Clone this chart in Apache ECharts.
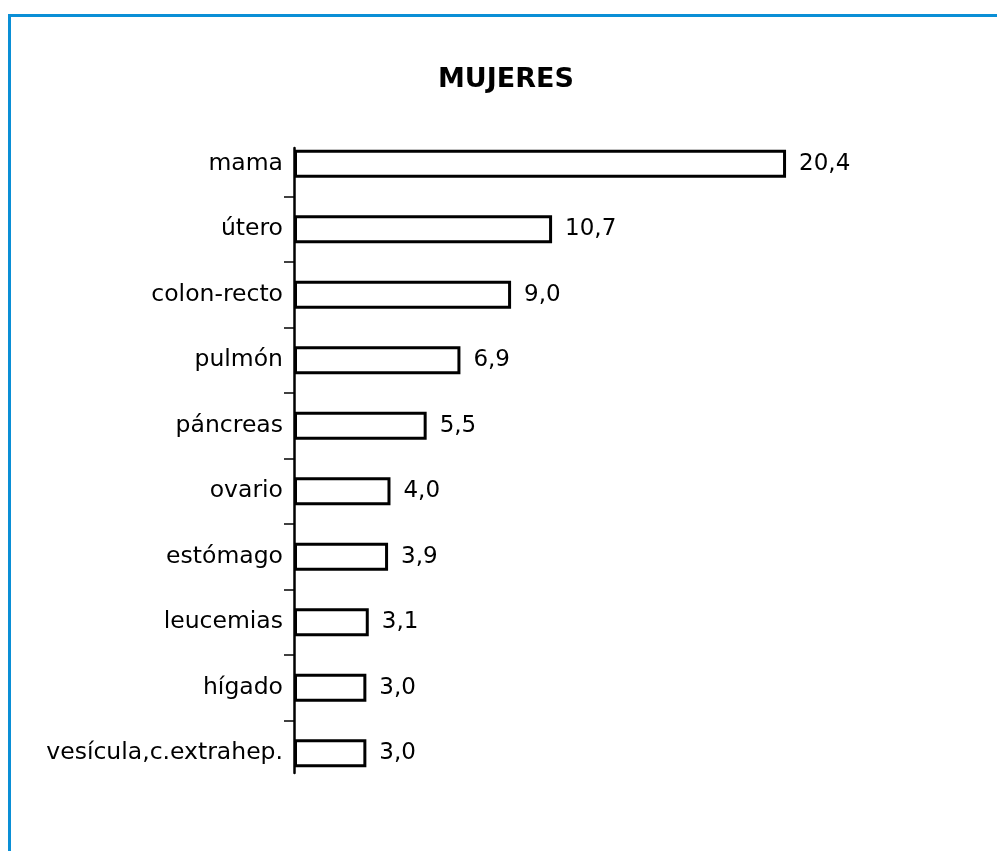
<!DOCTYPE html>
<html>
<head>
<meta charset="utf-8">
<title>MUJERES</title>
<script src="https://cdn.jsdelivr.net/npm/echarts@6/dist/echarts.min.js"></script>
<style>
  body { margin: 0; background: #fff; }
  #chart { position: absolute; left: 0; top: 0; width: 997px; height: 851px; }
  /* marco azul del cuadro original */
  #marco {
    position: absolute; left: 8px; top: 14px; width: 989px; height: 837px;
    border-left: 3px solid #0a8fd6; border-top: 3px solid #0a8fd6;
    box-sizing: border-box; pointer-events: none;
  }
</style>
</head>
<body>
<div id="chart"></div>
<div id="marco"></div>
<script>
// categorias (de arriba a abajo)
var categorias = ['mama', 'útero', 'colon-recto', 'pulmón', 'páncreas', 'ovario', 'estómago', 'leucemias', 'hígado', 'vesícula,c.extrahep.'];
// porcentajes
var valores = [20.4, 10.7, 9.0, 6.9, 5.5, 4.0, 3.9, 3.1, 3.0, 3.0];

var fuente = 'DejaVu Sans';

var chart = echarts.init(document.getElementById('chart'), null, { renderer: 'canvas' });

var option = {
  animation: false,
  backgroundColor: '#fff',
  title: {
    text: 'MUJERES',
    left: 433,
    top: 61,
    textStyle: { fontFamily: fuente, fontSize: 27, fontWeight: 'bold', color: '#000' }
  },
  grid: [
    // barras
    { left: 294, top: 131, width: 603, height: 655 },
    // marcas entre categorias
    { left: 284, top: 131, width: 10, height: 655 },
    // linea del eje
    { left: 294, top: 148, width: 10, height: 625 }
  ],
  xAxis: [
    { gridIndex: 0, type: 'value', min: 0, max: 25, show: false },
    { gridIndex: 1, type: 'value', min: 0, max: 1, show: false },
    { gridIndex: 2, type: 'value', min: 0, max: 1, show: false }
  ],
  yAxis: [
    {
      gridIndex: 0,
      type: 'category',
      inverse: true,
      data: categorias,
      axisLine: { show: false },
      axisTick: { show: false },
      axisLabel: { margin: 11, fontFamily: fuente, fontSize: 23.5, color: '#000' }
    },
    {
      gridIndex: 1,
      type: 'category',
      inverse: true,
      data: categorias,
      axisLine: { show: false },
      axisTick: { show: false },
      axisLabel: { show: false },
      splitLine: {
        show: true,
        showMinLine: false,
        showMaxLine: false,
        lineStyle: { color: '#000', width: 1.5 }
      }
    },
    {
      gridIndex: 2,
      type: 'value',
      min: 0,
      max: 1,
      axisLine: { show: true, onZero: false, lineStyle: { color: '#000', width: 2.5 } },
      axisTick: { show: false },
      axisLabel: { show: false },
      splitLine: { show: false }
    }
  ],
  series: [{
    type: 'bar',
    xAxisIndex: 0,
    yAxisIndex: 0,
    data: valores,
    barWidth: 28,
    itemStyle: { color: '#fff', borderColor: '#000', borderWidth: 3 },
    label: {
      show: true,
      position: 'right',
      distance: 13,
      fontFamily: fuente,
      fontSize: 23,
      color: '#000',
      formatter: function (p) {
        return p.value.toFixed(1).replace('.', ',');
      }
    }
  }]
};

chart.setOption(option);
</script>
</body>
</html>
